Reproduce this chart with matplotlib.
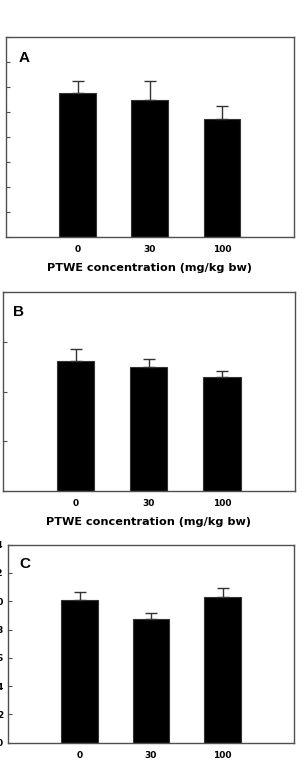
import matplotlib
matplotlib.use("Agg")
import matplotlib.pyplot as plt
import numpy as np

plt.rcParams['font.family'] = ['DejaVu Sans']

categories = ["0", "30", "100"]
xlabel = "PTWE concentration (mg/kg bw)"

a_values = [5.75, 5.49, 4.74]
a_errors = [0.49, 0.75, 0.49]
b_values = [2.61, 2.50, 2.30]
b_errors = [0.25, 0.16, 0.11]
c_values = [10.11, 8.72, 10.32]
c_errors = [0.52, 0.43, 0.60]

a_ticks = [0, 1, 2, 3, 4, 5, 6, 7, 8]
b_ticks = [0, 1, 2, 3, 4]
c_ticks = [0, 2, 4, 6, 8, 10, 12, 14]

W, H = 302, 770
fig = plt.figure(figsize=(W / 100, H / 100), dpi=100)

def px_axes(left, top, right, bottom):
    return fig.add_axes([left / W, 1 - bottom / H, (right - left) / W, (bottom - top) / H])

panels = [
    dict(box=(5.7, 37, 294, 237), vals=a_values, errs=a_errors, ticks=a_ticks,
         letter="A", lpos=(19, 51), xl=True, show_ylabels=False),
    dict(box=(2.5, 292.3, 295, 491), vals=b_values, errs=b_errors, ticks=b_ticks,
         letter="B", lpos=(12.7, 305), xl=True, show_ylabels=False),
    dict(box=(8, 544.7, 294, 742.7), vals=c_values, errs=c_errors, ticks=c_ticks,
         letter="C", lpos=(19, 557), xl=False, show_ylabels=True),
]

spine_col = "#505050"
x = np.arange(1, len(categories) + 1)
for p in panels:
    ax = px_axes(*p["box"])
    ax.bar(x, p["vals"], width=0.51, color="black", edgecolor="#333333", linewidth=0.8, zorder=2)
    ax.errorbar(x, p["vals"], yerr=[np.zeros(len(x)), p["errs"]], fmt="none",
                ecolor="#333333", elinewidth=1.0, capsize=4, capthick=1.0, zorder=3)
    ax.set_xlim(0, 4)
    ax.set_ylim(p["ticks"][0], p["ticks"][-1])
    ax.set_yticks(p["ticks"])
    if p["show_ylabels"]:
        ax.set_yticklabels([str(t) for t in p["ticks"]], fontsize=6.5, fontweight="bold")
    else:
        ax.set_yticklabels([])
    ax.set_xticks(x)
    ax.set_xticklabels(categories, fontsize=6.5, fontweight="bold")
    ax.tick_params(axis="x", length=0, pad=6)
    ax.tick_params(axis="y", direction="in", length=3, width=0.8, color=spine_col, pad=3.6)
    for s in ax.spines.values():
        s.set_color(spine_col)
        s.set_linewidth(1.0)
    if p["xl"]:
        ax.set_xlabel(xlabel, fontsize=8.1, fontweight="bold", labelpad=6.0)
    lx, ly = p["lpos"]
    ax.text(lx / W, 1 - ly / H, p["letter"], transform=fig.transFigure,
            fontsize=11, fontweight="bold", ha="left", va="top",
            family=["Liberation Sans", "DejaVu Sans"])

fig.savefig("out.png", dpi=100)
